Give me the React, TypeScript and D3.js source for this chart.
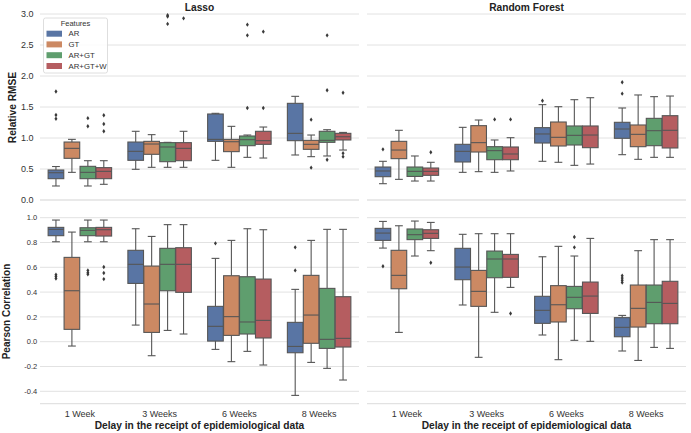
import React from "react";
import * as d3 from "d3";

const categories = ["1 Week", "3 Weeks", "6 Weeks", "8 Weeks"];
const features = ["AR", "GT", "AR+GT", "AR+GT+W"];
const featureColors = ["#5975a4", "#cc8963", "#5f9e6e", "#b55d60"];
const modelTitles = ["Lasso", "Random Forest"];

// [lowWhisker, q1, median, q3, highWhisker, outliers]
type Stat = [number, number, number, number, number, number[]];

const lassoRmse: Stat[][] = [
  [[0.226, 0.344, 0.44, 0.484, 0.54, [1.75, 1.37, 1.31]], [0.446, 0.672, 0.833, 0.935, 0.978, []], [0.226, 0.344, 0.446, 0.543, 0.634, [1.32, 1.19]], [0.253, 0.344, 0.462, 0.522, 0.634, [1.366, 1.226, 1.108]]],
  [[0.495, 0.64, 0.785, 0.935, 1.108, []], [0.527, 0.737, 0.903, 0.946, 1.054, []], [0.527, 0.618, 0.855, 0.925, 0.93, [2.98, 2.96, 2.84]], [0.527, 0.634, 0.833, 0.925, 1.108, [2.93]]],
  [[0.64, 0.946, 0.978, 1.387, 1.398, []], [0.527, 0.78, 0.94, 0.978, 1.188, []], [0.688, 0.876, 0.973, 1.032, 1.048, [2.828, 2.656, 1.484]], [0.677, 0.898, 0.957, 1.108, 1.177, [2.715, 1.484]]],
  [[0.726, 0.957, 1.075, 1.559, 1.672, []], [0.699, 0.817, 0.898, 0.962, 1.048, [1.296, 0.522]], [0.71, 0.93, 0.962, 1.108, 1.134, [2.656, 1.769, 0.65]], [0.806, 0.968, 1.02, 1.075, 1.09, [1.73, 0.753, 0.699]]],
];

const rfRmse: Stat[][] = [
  [[0.263, 0.376, 0.468, 0.532, 0.624, [0.817]], [0.333, 0.667, 0.806, 0.946, 1.124, []], [0.306, 0.38, 0.462, 0.532, 0.71, []], [0.306, 0.398, 0.462, 0.516, 0.608, [0.769]]],
  [[0.446, 0.613, 0.785, 0.898, 1.172, []], [0.457, 0.774, 0.925, 1.199, 1.29, []], [0.446, 0.65, 0.796, 0.86, 0.968, [1.3]], [0.468, 0.65, 0.742, 0.855, 1.005, [1.3]]],
  [[0.624, 0.919, 1.065, 1.167, 1.538, [1.6]], [0.608, 0.871, 1.011, 1.258, 1.505, []], [0.559, 0.887, 1.043, 1.194, 1.618, []], [0.58, 0.844, 1.048, 1.194, 1.65, []]],
  [[0.731, 0.995, 1.145, 1.253, 1.484, [1.898, 1.715]], [0.656, 0.86, 1.059, 1.21, 1.694, []], [0.688, 0.876, 1.118, 1.317, 1.667, []], [0.688, 0.839, 1.124, 1.36, 1.677, []]],
];

const lassoCorr: Stat[][] = [
  [[0.806, 0.855, 0.906, 0.922, 0.981, [0.54, 0.525, 0.51]], [-0.035, 0.0995, 0.411, 0.68, 0.884, []], [0.806, 0.855, 0.898, 0.919, 0.981, [0.575, 0.556, 0.543]], [0.806, 0.852, 0.903, 0.922, 0.981, [0.602, 0.554, 0.505]]],
  [[0.134, 0.47, 0.624, 0.737, 0.911, []], [-0.113, 0.075, 0.304, 0.61, 0.849, []], [0.091, 0.411, 0.624, 0.753, 0.944, []], [0.062, 0.398, 0.624, 0.758, 0.944, []]],
  [[-0.062, 0.005, 0.124, 0.285, 0.672, [0.793]], [-0.161, 0.051, 0.202, 0.532, 0.817, []], [-0.078, 0.062, 0.159, 0.524, 0.911, []], [-0.188, 0.03, 0.172, 0.505, 0.903, []]],
  [[-0.433, -0.089, -0.038, 0.156, 0.422, [0.761, 0.575]], [-0.167, -0.013, 0.215, 0.535, 0.817, []], [-0.215, -0.054, 0.019, 0.43, 0.906, []], [-0.309, -0.043, 0.027, 0.363, 0.906, []]],
];

const rfCorr: Stat[][] = [
  [[0.755, 0.817, 0.876, 0.914, 0.97, [0.608]], [0.075, 0.427, 0.535, 0.737, 0.935, []], [0.691, 0.823, 0.863, 0.909, 0.973, []], [0.734, 0.833, 0.874, 0.903, 0.962, [0.637]]],
  [[0.296, 0.5, 0.602, 0.753, 0.866, []], [-0.126, 0.285, 0.406, 0.575, 0.871, []], [0.237, 0.516, 0.667, 0.731, 0.871, []], [0.438, 0.519, 0.667, 0.704, 0.871, [0.228]]],
  [[0.054, 0.148, 0.253, 0.366, 0.685, []], [-0.145, 0.159, 0.298, 0.452, 0.769, []], [0.011, 0.266, 0.358, 0.446, 0.691, [0.844, 0.761]], [0.003, 0.228, 0.368, 0.481, 0.833, []]],
  [[-0.075, 0.04, 0.116, 0.194, 0.212, [0.532, 0.513, 0.495, 0.478]], [-0.151, 0.118, 0.269, 0.457, 0.734, []], [-0.046, 0.145, 0.317, 0.457, 0.823, []], [-0.054, 0.145, 0.309, 0.487, 0.823, []]],
];

const rmseTicks = [0, 0.5, 1.0, 1.5, 2.0, 2.5, 3.0];
const corrTicks = [-0.4, -0.2, 0.0, 0.2, 0.4, 0.6, 0.8, 1.0];

const FONT = "'Liberation Sans', Arial, sans-serif";
const GRID = "#e2e2e2";
const LINE = "#565656";

const panelX = [
  [40, 359],
  [367, 686],
];

const rows = [
  { y0: 14, y1: 200, domain: [0, 3] as [number, number], ticks: rmseTicks, data: [lassoRmse, rfRmse], tickSize: 9, tickRight: 33.5, grid: [0, 0.5, 1, 1.5, 2, 2.5, 3] },
  { y0: 217.7, y1: 403.7, domain: [-0.5, 1] as [number, number], ticks: corrTicks, data: [lassoCorr, rfCorr], tickSize: 7.5, tickRight: 37.3, grid: [-0.5, -0.4, -0.2, 0, 0.2, 0.4, 0.6, 0.8, 1.0] },
];

function Panel({ ri, ci }: { ri: number; ci: number }) {
  const row = rows[ri];
  const [xa, xb] = panelX[ci];
  const y = d3.scaleLinear().domain(row.domain).range([row.y1, row.y0]);
  const x = d3.scaleBand<string>().domain(categories).range([xa, xb]).padding(0);
  const bw = x.bandwidth();
  const hue = d3.scaleBand<string>().domain(features).range([-0.4 * bw, 0.4 * bw]).padding(0);
  const hw = hue.bandwidth();
  const boxW = hw * 0.98;
  const data = row.data[ci];
  const fmt = d3.format(".1f");
  return (
    <g>
      {row.grid.map((t) => (
        <line key={"g" + t} x1={xa} x2={xb} y1={y(t)} y2={y(t)} stroke={GRID} strokeWidth={t === row.domain[0] ? 1.3 : 1} />
      ))}
      {ci === 0 &&
        row.ticks.map((t) => (
          <text key={"t" + t} x={row.tickRight} y={y(t)} dy="0.35em" textAnchor="end" fontSize={row.tickSize} fill="#333" fontFamily={FONT}>
            {fmt(t).replace("−", "-")}
          </text>
        ))}
      {categories.map((cat, i) => {
        const cx = (x(cat) as number) + bw / 2;
        return data[i].map((s, j) => {
          const left = cx + (hue(features[j]) as number) + (hw - boxW) / 2;
          const mid = left + boxW / 2;
          const [lo, q1, med, q3, hi, outs] = s;
          const capW = boxW / 2;
          return (
            <g key={cat + j}>
              <line x1={mid} x2={mid} y1={y(q3)} y2={y(hi)} stroke={LINE} strokeWidth={1.1} />
              <line x1={mid} x2={mid} y1={y(q1)} y2={y(lo)} stroke={LINE} strokeWidth={1.1} />
              <line x1={mid - capW / 2} x2={mid + capW / 2} y1={y(hi)} y2={y(hi)} stroke={LINE} strokeWidth={1.1} />
              <line x1={mid - capW / 2} x2={mid + capW / 2} y1={y(lo)} y2={y(lo)} stroke={LINE} strokeWidth={1.1} />
              <rect x={left} y={y(q3)} width={boxW} height={Math.max(0.5, y(q1) - y(q3))} fill={featureColors[j]} stroke={LINE} strokeWidth={1.1} />
              <line x1={left} x2={left + boxW} y1={y(med)} y2={y(med)} stroke={LINE} strokeWidth={1.1} />
              {outs.map((o, k) => {
                const py = y(o);
                return (
                  <path key={k} d={`M${mid},${py - 2.2}L${mid + 1.5},${py}L${mid},${py + 2.2}L${mid - 1.5},${py}Z`} fill="#3a3a3a" />
                );
              })}
            </g>
          );
        });
      })}
      {ri === 1 &&
        categories.map((cat) => (
          <text key={"x" + cat} x={(x(cat) as number) + bw / 2} y={416.5} textAnchor="middle" fontSize={9} fill="#333" fontFamily={FONT}>
            {cat}
          </text>
        ))}
      {ri === 1 && (
        <text x={(xa + xb) / 2} y={428.8} textAnchor="middle" fontSize={10.2} fontWeight="bold" fill="#222" fontFamily={FONT}>
          Delay in the receipt of epidemiological data
        </text>
      )}
      {ri === 0 && (
        <text x={(xa + xb) / 2} y={10.5} textAnchor="middle" fontSize={10.2} fontWeight="bold" fill="#222" fontFamily={FONT}>
          {modelTitles[ci]}
        </text>
      )}
    </g>
  );
}

function Legend() {
  const rowsY = [33.7, 44.4, 55.2, 66];
  return (
    <g fontFamily={FONT}>
      <rect x={43.5} y={18} width={64} height={55} rx={2} fill="#fff" fillOpacity={0.85} stroke="#d5d5d5" strokeWidth={0.8} />
      <text x={75.5} y={26} textAnchor="middle" fontSize={7.5} fill="#333">
        Features
      </text>
      {features.map((f, i) => (
        <g key={f}>
          <rect x={46.5} y={rowsY[i] - 3} width={15.5} height={6} fill={featureColors[i]} />
          <text x={68.5} y={rowsY[i]} dy="0.35em" fontSize={7.8} fill="#333">
            {f}
          </text>
        </g>
      ))}
    </g>
  );
}

export default function App() {
  return (
    <svg width={691} height={433} style={{ position: "absolute", left: 0, top: 0, background: "#fff" }}>
      <rect x={0} y={0} width={691} height={433} fill="#fff" />
      {[0, 1].map((ri) => [0, 1].map((ci) => <Panel key={ri + "-" + ci} ri={ri} ci={ci} />))}
      <text transform="translate(16,107.5) rotate(-90)" textAnchor="middle" fontSize={10.2} fontWeight="bold" fill="#222" fontFamily={FONT}>
        Relative RMSE
      </text>
      <text transform="translate(10,311.5) rotate(-90)" textAnchor="middle" fontSize={10} fontWeight="bold" fill="#222" fontFamily={FONT}>
        Pearson Correlation
      </text>
      <Legend />
    </svg>
  );
}
